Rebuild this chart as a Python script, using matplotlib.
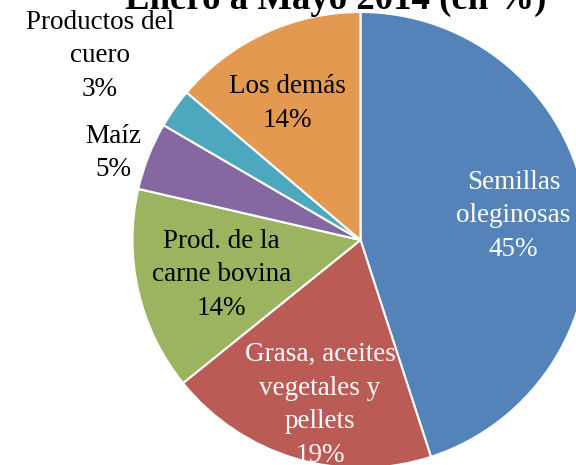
import matplotlib.pyplot as plt
import numpy as np

# participación por rubro, enero a mayo 2014
rubros = ["Semillas\noleginosas", "Grasa, aceites\nvegetales y\npellets",
          "Prod. de la\ncarne bovina", "Maíz", "Productos del\ncuero", "Los demás"]
valores = [45.0, 19.2, 14.4, 4.8, 2.8, 13.8]
colores = ["#5383B8", "#BB5B56", "#9CB360", "#8568A0", "#4DA8BF", "#E3994F"]
color_texto = ["white", "white", "black", "black", "black", "black"]
distancia = [0.68, 0.745, 0.63, 1.15, 1.40, 0.68]
desfase = [0, 2.8, 1.1, 2.2, 0, 3.4]  # grados, ajuste fino de la etiqueta

plt.rcParams['font.family'] = ['Liberation Serif', 'DejaVu Serif']

fig = plt.figure(figsize=(5.76, 4.65), dpi=100)
ax = fig.add_axes([132.5 / 576, -3 / 465, 456 / 576, 456 / 465])

wedges, _ = ax.pie(valores, colors=colores, startangle=90, counterclock=False,
                   wedgeprops=dict(edgecolor="white", linewidth=1.5))
ax.set_xlim(-1, 1)
ax.set_ylim(-1, 1)

# etiquetas con nombre y porcentaje
for w, nombre, v, c, d, da in zip(wedges, rubros, valores, color_texto,
                                  distancia, desfase):
    ang = np.deg2rad((w.theta1 + w.theta2) / 2 + da)
    ax.text(d * np.cos(ang), d * np.sin(ang), f"{nombre}\n{round(v)}%",
            ha="center", va="center", color=c, fontsize=19.5, linespacing=1.45)

fig.text(125 / 576, 1 - 9 / 465, "Enero a Mayo 2014 (en %)", ha="left",
         va="baseline", fontsize=26.5, fontweight="bold")

fig.savefig("out.png", dpi=100)
